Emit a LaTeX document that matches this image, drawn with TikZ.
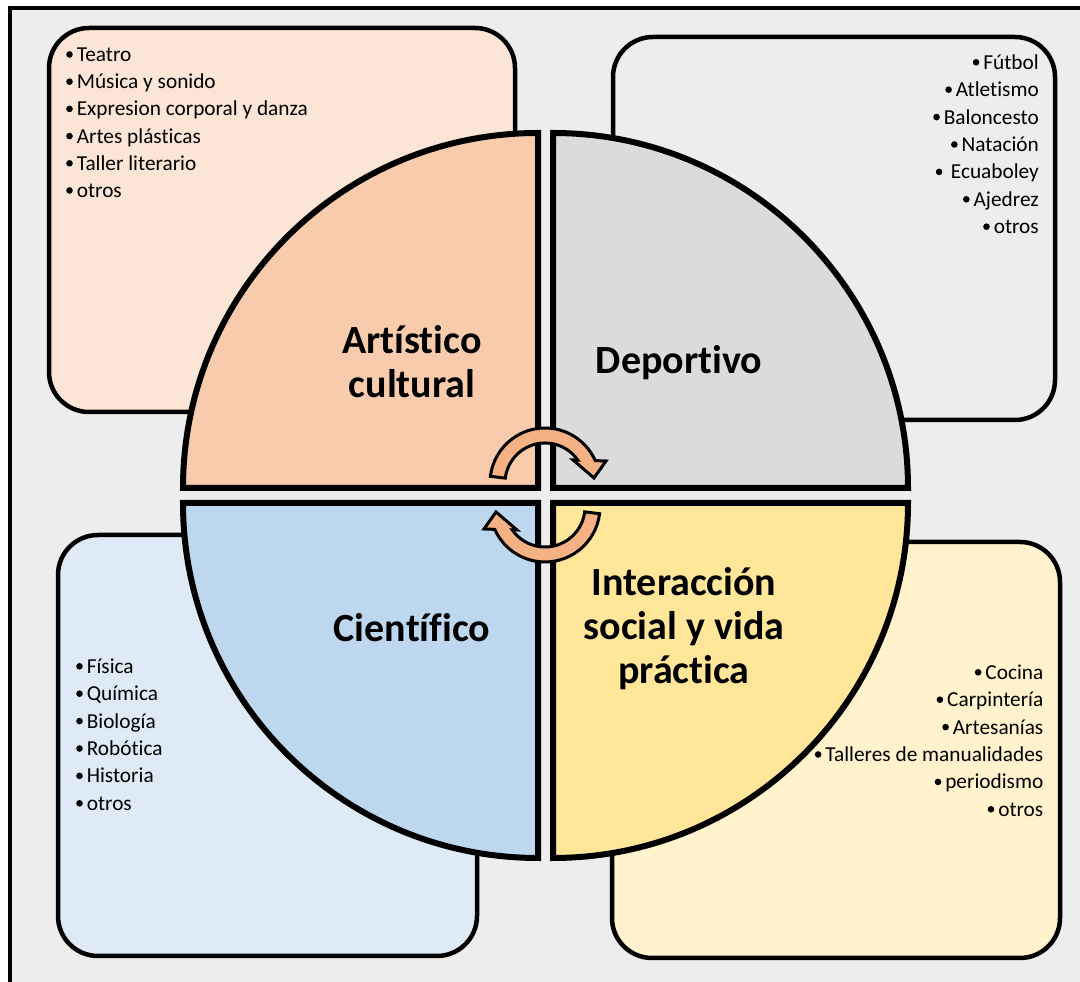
\documentclass[tikz,border=0pt]{standalone}
\usepackage{fontspec}
\setmainfont{Carlito}[Ligatures=NoCommon]
\definecolor{bggray}{HTML}{EDEDED}
\definecolor{tlbox}{HTML}{FBE5D6}
\definecolor{trbox}{HTML}{EDEDED}
\definecolor{blbox}{HTML}{DEEBF7}
\definecolor{brbox}{HTML}{FFF2CC}
\definecolor{tlq}{HTML}{F8CBAD}
\definecolor{trq}{HTML}{DBDBDB}
\definecolor{blq}{HTML}{BDD7EE}
\definecolor{brq}{HTML}{FFE699}
\definecolor{arrowc}{HTML}{F4B183}
\newcommand\mybul{\tikz[baseline={(0pt,-7pt)}]\fill[black] (3.3pt,0pt) circle[radius=3.3pt];\hspace{4pt}}
\begin{document}
\begin{tikzpicture}[x=1pt,y=1pt,
  box/.style={draw=black, line width=4.5pt, rounded corners=40pt},
  quad/.style={draw=black, line width=6pt, line join=miter},
  arw/.style={draw=black, line width=3pt, fill=arrowc, line join=miter},
  title/.style={font=\fontsize{40}{44}\selectfont\bfseries, align=center, inner sep=0pt},
  item/.style={font=\fontsize{21.3}{26}\selectfont, inner sep=0pt}]
\useasboundingbox (0,0) rectangle (1080,982);
\clip (0,0) rectangle (1080,982);
\fill[white] (0,0) rectangle (1080,982);
\draw[line width=4pt, fill=bggray] (9.5,974) rectangle (1100,-20);
% list boxes
\draw[box, fill=tlbox] (49,570) rectangle (515,954);
\draw[box, fill=trbox] (613,562) rectangle (1055,945);
\draw[box, fill=blbox] (58,26) rectangle (477,447);
\draw[box, fill=brbox] (612,24) rectangle (1060,440);
% quadrants
\draw[quad, fill=tlq] (538,494) -- (183,494) arc[start angle=180,end angle=90,radius=355] -- cycle;
\draw[quad, fill=trq] (553,494) -- (553,849) arc[start angle=90,end angle=0,radius=355] -- cycle;
\draw[quad, fill=blq] (538,479) -- (183,479) arc[start angle=180,end angle=270,radius=355] -- cycle;
\draw[quad, fill=brq] (553,479) -- (908,479) arc[start angle=0,end angle=-90,radius=355] -- cycle;
% titles
\node[title] (art) at (412,620) {Artístico\\cultural};
\node[title] (dep) at (679,619) {Deportivo};
\node[title] (cie) at (412,354) {Científico};
\node[title] (int) at (684,353) {Interacción\\social y vida\\práctica};
% circular arrows
\begin{scope}[shift={(545,499)}]
\draw[arw] (173:55) arc[start angle=173,end angle=24,radius=55] -- (61,22) -- (49,5) -- (28,23) -- (35:40) arc[start angle=35,end angle=173,radius=40] -- cycle;
\end{scope}
\begin{scope}[shift={(545,475)}, rotate=180]
\draw[arw] (173:55) arc[start angle=173,end angle=24,radius=55] -- (61,22) -- (49,5) -- (28,23) -- (35:40) arc[start angle=35,end angle=173,radius=40] -- cycle;
\end{scope}
% lists
\foreach \t [count=\i] in {Teatro, Música y sonido, Expresion corporal y danza, Artes plásticas, Taller literario, otros}
  \node[item, anchor=base west] (tl\i) at (66, {920.5-27.2*(\i-1)}) {\mybul\t};
\foreach \t [count=\i] in {Fútbol, Atletismo, Baloncesto, Natación, \hspace{4.5pt}Ecuaboley, Ajedrez, otros}
  \node[item, anchor=base east] (tr\i) at (1039, {912.7-27.4*(\i-1)}) {\mybul\t};
\foreach \t [count=\i] in {Física, Química, Biología, Robótica, Historia, otros}
  \node[item, anchor=base west] (bl\i) at (76, {308.7-27.4*(\i-1)}) {\mybul\t};
\foreach \t [count=\i] in {Cocina, Carpintería, Artesanías, Talleres de manualidades, periodismo, otros}
  \node[item, anchor=base east] (br\i) at (1043.5, {302.7-27.4*(\i-1)}) {\mybul\t};
\end{tikzpicture}
\end{document}
